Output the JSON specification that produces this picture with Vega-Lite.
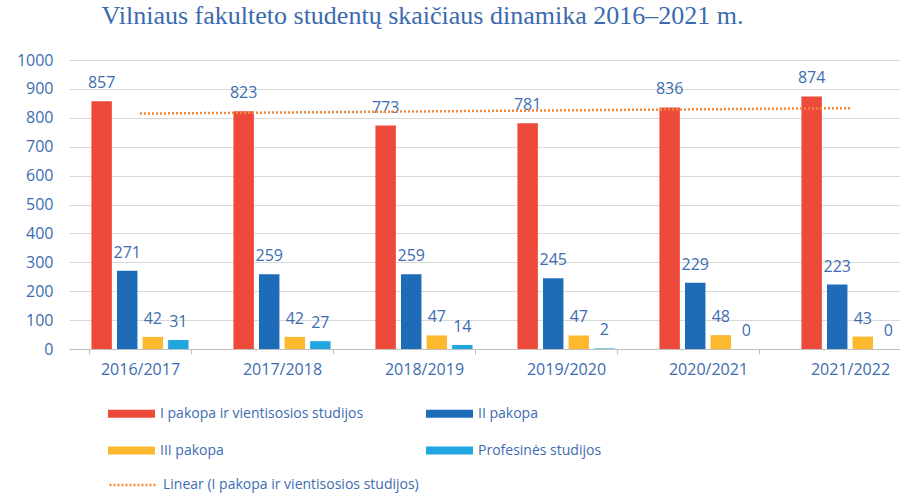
{
  "$schema": "https://vega.github.io/schema/vega-lite/v6.json",
  "width": 831,
  "height": 289,
  "autosize": {"type": "none"},
  "padding": {"left": 69, "top": 60, "right": 0, "bottom": 145},
  "background": "white",
  "title": {
    "text": "Vilniaus fakulteto studentų skaičiaus dinamika 2016–2021 m.",
    "font": "Liberation Serif",
    "fontSize": 26,
    "fontWeight": "normal",
    "color": "#3B6AAE",
    "anchor": "middle",
    "frame": "group",
    "dx": -62,
    "baseline": "alphabetic",
    "offset": 2
  },
  "config": {"view": {"stroke": null}},
  "datasets": {
    "bars": [
      {"year": "2016/2017", "series": "I pakopa ir vientisosios studijos", "value": 857},
      {"year": "2016/2017", "series": "II pakopa", "value": 271},
      {"year": "2016/2017", "series": "III pakopa", "value": 42},
      {"year": "2016/2017", "series": "Profesinės studijos", "value": 31},
      {"year": "2017/2018", "series": "I pakopa ir vientisosios studijos", "value": 823},
      {"year": "2017/2018", "series": "II pakopa", "value": 259},
      {"year": "2017/2018", "series": "III pakopa", "value": 42},
      {"year": "2017/2018", "series": "Profesinės studijos", "value": 27},
      {"year": "2018/2019", "series": "I pakopa ir vientisosios studijos", "value": 773},
      {"year": "2018/2019", "series": "II pakopa", "value": 259},
      {"year": "2018/2019", "series": "III pakopa", "value": 47},
      {"year": "2018/2019", "series": "Profesinės studijos", "value": 14},
      {"year": "2019/2020", "series": "I pakopa ir vientisosios studijos", "value": 781},
      {"year": "2019/2020", "series": "II pakopa", "value": 245},
      {"year": "2019/2020", "series": "III pakopa", "value": 47},
      {"year": "2019/2020", "series": "Profesinės studijos", "value": 2},
      {"year": "2020/2021", "series": "I pakopa ir vientisosios studijos", "value": 836},
      {"year": "2020/2021", "series": "II pakopa", "value": 229},
      {"year": "2020/2021", "series": "III pakopa", "value": 48},
      {"year": "2020/2021", "series": "Profesinės studijos", "value": 0},
      {"year": "2021/2022", "series": "I pakopa ir vientisosios studijos", "value": 874},
      {"year": "2021/2022", "series": "II pakopa", "value": 223},
      {"year": "2021/2022", "series": "III pakopa", "value": 43},
      {"year": "2021/2022", "series": "Profesinės studijos", "value": 0}
    ],
    "trend": [
      {"year": "2016/2017", "trend": "Linear (I pakopa ir vientisosios studijos)", "value": 814.6},
      {"year": "2021/2022", "trend": "Linear (I pakopa ir vientisosios studijos)", "value": 833.4}
    ]
  },
  "encoding": {
    "x": {
      "field": "year",
      "type": "nominal",
      "scale": {"range": [0, 852], "paddingInner": 0.28, "paddingOuter": 0.14},
      "axis": {
        "title": null,
        "labelAngle": 0,
        "domainColor": "#BFBFBF",
        "tickColor": "#BFBFBF",
        "tickBand": "extent",
        "tickSize": 5,
        "labelFont": "Open Sans",
        "labelFontSize": 16,
        "labelColor": "#3D6CB0",
        "labelPadding": 7,
        "grid": false
      }
    },
    "y": {
      "field": "value",
      "type": "quantitative",
      "scale": {"domain": [0, 1000], "nice": false},
      "axis": {
        "title": null,
        "values": [0, 100, 200, 300, 400, 500, 600, 700, 800, 900, 1000],
        "format": "d",
        "labelOverlap": false,
        "domain": false,
        "ticks": false,
        "grid": true,
        "gridColor": "#D9D9D9",
        "labelColor": "#3D6CB0",
        "labelFont": "Open Sans",
        "labelFontSize": 16,
        "labelPadding": 16
      }
    }
  },
  "layer": [
    {
      "data": {"name": "bars"},
      "mark": {"type": "bar"},
      "encoding": {
        "xOffset": {
          "field": "series",
          "type": "nominal",
          "scale": {
            "domain": ["I pakopa ir vientisosios studijos", "II pakopa", "III pakopa", "Profesinės studijos"],
            "paddingInner": 0.2,
            "paddingOuter": 0.1
          }
        },
        "color": {
          "field": "series",
          "type": "nominal",
          "scale": {
            "domain": ["I pakopa ir vientisosios studijos", "II pakopa", "III pakopa", "Profesinės studijos"],
            "range": ["#EE4A3B", "#1E6BB8", "#FDB92E", "#21A6E0"]
          },
          "legend": {
            "title": null,
            "orient": "none",
            "direction": "horizontal",
            "legendX": 39,
            "legendY": 330,
            "columns": 2,
            "padding": 0,
            "symbolType": "M-1,-0.17H1V0.17H-1Z",
            "symbolSize": 2209,
            "symbolStrokeWidth": 0,
            "labelFont": "Open Sans",
            "labelFontSize": 14,
            "labelColor": "#3D6CB0",
            "labelOffset": 5,
            "rowPadding": 6,
            "columnPadding": 62,
            "labelLimit": 400
          }
        }
      }
    },
    {
      "data": {"name": "bars"},
      "mark": {"type": "text", "baseline": "alphabetic", "dy": -13, "font": "Open Sans", "fontSize": 16, "fill": "#3D6CB0"},
      "encoding": {
        "xOffset": {"field": "series", "type": "nominal"},
        "text": {"field": "value", "type": "quantitative"}
      }
    },
    {
      "data": {"name": "trend"},
      "mark": {"type": "line", "strokeDash": [2, 2], "strokeWidth": 2.5, "strokeCap": "butt"},
      "encoding": {
        "stroke": {
          "field": "trend",
          "type": "nominal",
          "scale": {"range": ["#F08A3C"]},
          "legend": {
            "title": null,
            "orient": "none",
            "legendX": 39,
            "legendY": 400,
            "padding": 0,
            "symbolType": "M-1,0H1",
            "symbolSize": 2209,
            "symbolStrokeWidth": 2.5,
            "symbolDash": [2, 2],
            "symbolFillColor": "transparent",
            "labelFont": "Open Sans",
            "labelFontSize": 14,
            "labelColor": "#3D6CB0",
            "labelOffset": 5,
            "labelLimit": 400
          }
        }
      }
    }
  ]
}
